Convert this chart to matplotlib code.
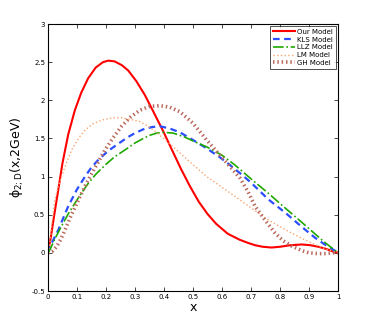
import matplotlib.pyplot as plt
import numpy as np

# values
x_our = [0, 0.01, 0.02, 0.036, 0.05, 0.07, 0.093, 0.115, 0.139, 0.165, 0.19, 0.208, 0.23, 0.255, 0.277, 0.305,
         0.334, 0.365, 0.398, 0.43, 0.46, 0.49, 0.52, 0.55, 0.58, 0.62, 0.662, 0.69, 0.714, 0.74, 0.771, 0.8,
         0.835, 0.875, 0.905, 0.932, 0.96, 0.98, 1.0]
y_our = [0, 0.2, 0.45, 0.83, 1.17, 1.55, 1.87, 2.10, 2.29, 2.43, 2.50, 2.52, 2.51, 2.46, 2.39, 2.25,
         2.07, 1.84, 1.59, 1.33, 1.09, 0.87, 0.67, 0.51, 0.38, 0.25, 0.17, 0.13, 0.10, 0.08, 0.07, 0.08,
         0.10, 0.11, 0.10, 0.08, 0.05, 0.02, 0]

x_kls = [0, 0.007, 0.02, 0.036, 0.05, 0.07, 0.1, 0.128, 0.15, 0.174, 0.2, 0.22, 0.25, 0.277, 0.3, 0.329, 0.36,
         0.386, 0.42, 0.455, 0.5, 0.547, 0.59, 0.628, 0.67, 0.7, 0.73, 0.76, 0.82, 0.875, 0.92, 0.95, 0.98, 1.0]
y_kls = [0, 0.08, 0.18, 0.30, 0.43, 0.61, 0.83, 1.0, 1.12, 1.22, 1.31, 1.37, 1.45, 1.52, 1.57, 1.62, 1.65,
         1.66, 1.63, 1.58, 1.48, 1.37, 1.26, 1.15, 1.02, 0.92, 0.81, 0.70, 0.52, 0.34, 0.20, 0.12, 0.05, 0]

x_llz = [0, 0.007, 0.025, 0.047, 0.07, 0.093, 0.115, 0.139, 0.165, 0.197, 0.23, 0.266, 0.3, 0.329, 0.35, 0.375,
         0.4, 0.432, 0.47, 0.51, 0.547, 0.6, 0.645, 0.7, 0.76, 0.82, 0.875, 0.92, 0.95, 0.98, 1.0]
y_llz = [0, 0.04, 0.19, 0.35, 0.51, 0.65, 0.78, 0.91, 1.03, 1.15, 1.26, 1.35, 1.44, 1.50, 1.54, 1.57,
         1.58, 1.57, 1.52, 1.45, 1.39, 1.28, 1.15, 0.97, 0.78, 0.58, 0.40, 0.25, 0.15, 0.06, 0]

x_lm = [0, 0.007, 0.015, 0.024, 0.035, 0.047, 0.065, 0.082, 0.105, 0.128, 0.155, 0.185, 0.22, 0.254, 0.285,
        0.317, 0.35, 0.38, 0.432, 0.49, 0.547, 0.6, 0.645, 0.7, 0.76, 0.82, 0.875, 0.92, 0.95, 0.98, 1.0]
y_lm = [0, 0.13, 0.42, 0.69, 0.86, 1.0, 1.19, 1.35, 1.50, 1.61, 1.69, 1.74, 1.77, 1.77, 1.75,
        1.72, 1.65, 1.56, 1.39, 1.19, 1.0, 0.86, 0.74, 0.59, 0.43, 0.30, 0.19, 0.11, 0.06, 0.02, 0]

x_gh = [0, 0.015, 0.03, 0.045, 0.059, 0.08, 0.105, 0.13, 0.151, 0.175, 0.197, 0.225, 0.254, 0.285, 0.317, 0.35,
        0.386, 0.42, 0.455, 0.5, 0.547, 0.6, 0.662, 0.69, 0.714, 0.75, 0.783, 0.81, 0.84, 0.875, 0.9, 0.932,
        0.96, 0.98, 1.0]
y_gh = [0, 0.02, 0.08, 0.18, 0.30, 0.49, 0.69, 0.89, 1.04, 1.20, 1.35, 1.51, 1.66, 1.78, 1.87, 1.92,
        1.93, 1.91, 1.85, 1.70, 1.48, 1.25, 0.98, 0.80, 0.61, 0.42, 0.26, 0.16, 0.09, 0.03, 0.0, -0.01,
        -0.01, 0, 0]

fig = plt.figure(figsize=(3.74, 3.29), dpi=100)
ax = fig.add_axes([0.128, 0.1155, 0.776, 0.8115])

ax.plot(x_our, y_our, color='#FF0000', lw=1.5, label='Our Model')
ax.plot(x_kls, y_kls, color='#2B4EFF', lw=1.6, ls=(0, (3, 2)), label='KLS Model')
ax.plot(x_llz, y_llz, color='#1FA800', lw=1.2, ls='-.', label='LLZ Model')
ax.plot(x_lm, y_lm, color='#F7A56E', lw=1.0, ls=':', label='LM Model')
ax.plot(x_gh, y_gh, color='#B9675B', lw=2.6, ls=(0, (0.4, 0.8)), label='GH Model')

ax.set_xlim(0, 1)
ax.set_ylim(-0.5, 3)
ax.set_xticks(np.arange(0, 1.01, 0.1))
ax.set_xticklabels(['0', '0.1', '0.2', '0.3', '0.4', '0.5', '0.6', '0.7', '0.8', '0.9', '1'])
ax.set_yticks(np.arange(-0.5, 3.01, 0.5))
ax.set_yticklabels(['-0.5', '0', '0.5', '1', '1.5', '2', '2.5', '3'])
ax.tick_params(direction='in', top=True, right=True, labelsize=5, length=3, width=0.5, pad=2)
for s in ax.spines.values():
    s.set_linewidth(0.8)

ax.set_xlabel('x', fontsize=9, labelpad=1)
ax.set_ylabel(r'$\mathrm{\phi_{2;D}}$(x,2GeV)', fontsize=9)
ax.yaxis.set_label_coords(-0.075, 0.5)

leg = ax.legend(loc='upper right', fontsize=5, handlelength=3.2, borderpad=0.4,
                labelspacing=0.25, handletextpad=0.3, fancybox=False, borderaxespad=0.3)
leg.get_frame().set_edgecolor('black')
leg.get_frame().set_linewidth(0.6)

plt.savefig('out.png', dpi=100)
